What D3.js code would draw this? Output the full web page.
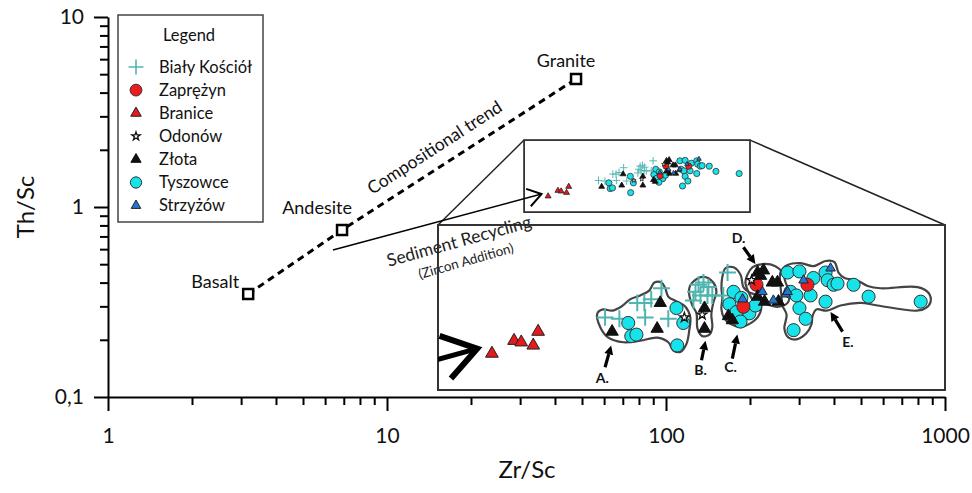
<!DOCTYPE html>
<html>
<head>
<meta charset="utf-8">
<title>Th/Sc vs Zr/Sc</title>
<script src="https://d3js.org/d3.v7.min.js"></script>
<style>
  body { margin: 0; background: #fff; }
  svg { font-family: Lato, "Open Sans", sans-serif; }
</style>
</head>
<body>
<svg id="chart" width="972" height="493"></svg>
<script>
// upper crust end members
const rockNames = ["Basalt", "Andesite", "Granite"];
const rockZrSc = [3.18, 6.9, 47.6];
const rockThSc = [0.348, 0.757, 4.72];

const xTicks = [1, 10, 100, 1000];
const xTickLabels = ["1", "10", "100", "1000"];
const yTicks = [0.1, 1, 10];
const yTickLabels = ["0,1", "1", "10"];

// window that is magnified in the inset
const insetZr = [31, 200];
const insetTh = [0.94, 2.25];

// samples, [Zr/Sc, Th/Sc]
const bialyKosciol = [
  [57.3, 1.38], [60.4, 1.37], [64.5, 1.49], [66.2, 1.49], [67.9, 1.52], [70.5, 1.61], [66.4, 1.38], [72.3, 1.37],
  [80.8, 1.64], [82.3, 1.66], [83.8, 1.62], [79.9, 1.58], [81.4, 1.55], [83.5, 1.55], [85.0, 1.55], [79.3, 1.51],
  [89.9, 1.75], [88.5, 1.55]
];
const zaprezyn = [[95.3, 1.46], [100.0, 1.64], [120.6, 1.64]];
const branice = [[37.8, 1.14], [41.0, 1.22], [42.1, 1.21], [44.0, 1.19], [44.8, 1.28]];
const odonow = [[76.7, 1.38], [81.9, 1.40], [98.2, 1.68]];
const zlota = [
  [58.8, 1.28], [70.2, 1.49], [69.4, 1.30], [82.6, 1.45], [82.6, 1.30], [90.2, 1.39], [91.5, 1.36],
  [100.4, 1.75], [102.6, 1.77], [101.5, 1.72], [106.0, 1.66], [108.0, 1.66], [100.4, 1.54], [103.0, 1.50], [108.4, 1.50]
];
const tyszowce = [
  [62.4, 1.34], [63.1, 1.25], [64.3, 1.26], [74.5, 1.45], [76.4, 1.34], [74.7, 1.19],
  [91.9, 1.58], [90.5, 1.48], [94.6, 1.53], [92.9, 1.42], [97.4, 1.41], [99.6, 1.47], [94.3, 1.35],
  [113.3, 1.58], [112.1, 1.75], [117.1, 1.76], [123.3, 1.70], [128.9, 1.75], [129.9, 1.68], [132.8, 1.64],
  [134.7, 1.65], [142.9, 1.64], [151.0, 1.54], [182.9, 1.50], [115.8, 1.55], [122.0, 1.55], [128.9, 1.50],
  [117.1, 1.45], [119.8, 1.37], [114.6, 1.29]
];
const strzyzow = [[95.0, 1.52], [102.2, 1.58], [106.4, 1.51], [111.3, 1.56], [118.9, 1.68], [131.3, 1.79], [112.1, 1.58]];

// group outlines in the inset
const hullA = [[55.7, 1.41], [56.3, 1.31], [58.0, 1.24], [61.3, 1.21], [65.2, 1.22], [69.4, 1.24], [72.3, 1.21], [73.6, 1.16],
  [75.6, 1.15], [77.3, 1.20], [78.1, 1.29], [78.4, 1.38], [77.0, 1.46], [74.7, 1.50], [72.3, 1.54], [71.5, 1.61],
  [70.5, 1.66], [68.7, 1.66], [67.4, 1.59], [65.2, 1.55], [62.9, 1.52], [60.8, 1.46], [58.8, 1.43], [56.9, 1.44]];
const hullB = [[79.0, 1.66], [82.3, 1.71], [85.3, 1.66], [86.3, 1.58], [85.3, 1.49], [84.7, 1.40], [85.0, 1.31], [84.1, 1.26],
  [81.9, 1.25], [80.5, 1.30], [80.2, 1.41], [79.0, 1.47], [78.1, 1.55], [78.1, 1.61]];
const hullC = [[89.2, 1.79], [91.9, 1.80], [94.3, 1.73], [95.3, 1.62], [97.1, 1.58], [100.7, 1.54], [101.8, 1.46], [100.4, 1.38],
  [97.1, 1.33], [94.3, 1.31], [91.2, 1.33], [88.9, 1.37], [87.9, 1.44], [88.2, 1.53], [87.9, 1.61], [88.2, 1.71]];
const hullD = [[96.7, 1.73], [98.6, 1.80], [102.2, 1.83], [107.2, 1.81], [110.0, 1.75], [111.3, 1.66], [112.9, 1.57], [112.1, 1.49],
  [108.4, 1.46], [105.3, 1.47], [102.2, 1.49], [98.9, 1.51], [97.1, 1.58], [96.0, 1.66]];
const hullE = [[109.2, 1.75], [112.1, 1.82], [117.6, 1.84], [123.3, 1.81], [128.9, 1.86], [133.2, 1.85], [135.2, 1.75], [138.2, 1.70],
  [144.5, 1.68], [150.5, 1.63], [157.8, 1.61], [180.9, 1.62], [188.3, 1.57], [189.7, 1.50], [186.3, 1.45], [180.2, 1.43],
  [156.1, 1.47], [146.6, 1.49], [136.2, 1.47], [129.4, 1.43], [124.7, 1.44], [122.9, 1.39], [122.4, 1.33], [120.2, 1.27],
  [116.3, 1.23], [112.5, 1.24], [110.8, 1.30], [111.7, 1.40], [110.0, 1.47], [109.6, 1.55], [109.2, 1.64]];

const groupNames = ["A.", "B.", "C.", "D.", "E."];
const groupLabelAt = [[56.7, 1.00], [81.4, 1.045], [90.9, 1.06], [93.6, 2.10], [140.0, 1.21]];
const groupArrowFrom = [[57.3, 1.06], [81.7, 1.10], [91.5, 1.11], [95.3, 2.00], [137.2, 1.28]];
const groupArrowTo = [[58.6, 1.19], [82.9, 1.22], [93.2, 1.26], [99.6, 1.83], [131.3, 1.42]];

// sediment recycling arrow
const recyclingFrom = [6.4, 0.594];
const recyclingTo = [35.8, 1.17];

const seriesNames = ["Biały Kościół", "Zaprężyn", "Branice", "Odonów", "Złota", "Tyszowce", "Strzyżów"];
const seriesData = [bialyKosciol, zaprezyn, branice, odonow, zlota, tyszowce, strzyzow];

const seriesStyle = [
  { type: d3.symbolPlus, size: 95, fill: "none", stroke: "#4fb5b0", sw: 2 },
  { type: d3.symbolCircle, size: 135, fill: "#ee1c1c", stroke: "#333", sw: 1 },
  { type: d3.symbolTriangle, size: 70, fill: "#e41a1c", stroke: "#222", sw: 1 },
  { type: d3.symbolStar, size: 28, fill: "#fff", stroke: "#111", sw: 1.3 },
  { type: d3.symbolTriangle, size: 66, fill: "#111", stroke: "#111", sw: 1 },
  { type: d3.symbolCircle, size: 135, fill: "#17e3ea", stroke: "#333", sw: 1 },
  { type: d3.symbolTriangle, size: 40, fill: "#2277d6", stroke: "#222", sw: 1 }
];
const drawOrder = [0, 5, 1, 4, 3, 6, 2];

const svg = d3.select("#chart");

// main axes
const x = d3.scaleLog().domain([1, 1000]).range([108, 945]);
const y = d3.scaleLog().domain([0.1, 10]).range([397, 17]);

// magnified copy of the inset window
const bx = d3.scaleLog().domain(insetZr).range([438, 945]);
const by = d3.scaleLog().domain(insetTh).range([390, 225]);

const minorX = [1, 10, 100].flatMap(e => d3.range(2, 10).map(m => m * e));
const minorY = [0.1, 1].flatMap(e => d3.range(2, 10).map(m => m * e));

function styleAxis(g) {
  g.attr("font-family", null).attr("font-size", 21);
  g.selectAll("line, path").attr("stroke", "#000").attr("stroke-width", 2);
  g.selectAll("text").attr("fill", "#111");
}

svg.append("g")
  .attr("transform", `translate(0,${y(0.1)})`)
  .call(d3.axisBottom(x).tickValues(minorX).tickSize(8).tickSizeOuter(0).tickFormat(""))
  .call(styleAxis)
  .select(".domain").remove();
svg.append("g")
  .attr("transform", `translate(0,${y(0.1)})`)
  .call(d3.axisBottom(x).tickValues(xTicks).tickSize(14).tickSizeOuter(0).tickPadding(17)
    .tickFormat((d, i) => xTickLabels[i]))
  .call(styleAxis);

svg.append("g")
  .attr("transform", `translate(${x(1)},0)`)
  .call(d3.axisLeft(y).tickValues(minorY).tickSize(8).tickSizeOuter(0).tickFormat(""))
  .call(styleAxis)
  .select(".domain").remove();
svg.append("g")
  .attr("transform", `translate(${x(1)},0)`)
  .call(d3.axisLeft(y).tickValues(yTicks).tickSize(14).tickSizeOuter(0).tickPadding(10)
    .tickFormat((d, i) => yTickLabels[i]))
  .call(styleAxis);

svg.append("text")
  .attr("transform", `translate(34,${y(1)}) rotate(-90)`)
  .attr("text-anchor", "middle")
  .attr("font-size", 24)
  .attr("fill", "#111")
  .text("Th/Sc");
svg.append("text")
  .attr("x", 527).attr("y", 478)
  .attr("text-anchor", "middle")
  .attr("font-size", 24)
  .attr("fill", "#111")
  .text("Zr/Sc");

// compositional trend
const rocks = rockNames.map((n, i) => ({ name: n, zr: rockZrSc[i], th: rockThSc[i] }));
svg.append("path")
  .datum(rocks)
  .attr("d", d3.line().x(d => x(d.zr)).y(d => y(d.th)))
  .attr("fill", "none")
  .attr("stroke", "#000")
  .attr("stroke-width", 3)
  .attr("stroke-dasharray", "7,5");

svg.selectAll(".rock")
  .data(rocks)
  .join("path")
  .attr("transform", d => `translate(${x(d.zr)},${y(d.th)})`)
  .attr("d", d3.symbol(d3.symbolSquare, 100))
  .attr("fill", "#fff")
  .attr("stroke", "#000")
  .attr("stroke-width", 2.5);

const rockLabelPos = [
  { dx: -9, dy: -6, anchor: "end" },
  { dx: -25, dy: -16, anchor: "middle" },
  { dx: -10, dy: -12, anchor: "middle" }
];
svg.selectAll(".rocklabel")
  .data(rocks)
  .join("text")
  .attr("x", (d, i) => x(d.zr) + rockLabelPos[i].dx)
  .attr("y", (d, i) => y(d.th) + rockLabelPos[i].dy)
  .attr("text-anchor", (d, i) => rockLabelPos[i].anchor)
  .attr("font-size", 18)
  .attr("fill", "#111")
  .text(d => d.name);

// rotated label along the trend
{
  const a = rocks[1], b = rocks[2];
  const x0 = x(a.zr), y0 = y(a.th), x1 = x(b.zr), y1 = y(b.th);
  const ang = Math.atan2(y1 - y0, x1 - x0) * 180 / Math.PI;
  const t = 0.44;
  svg.append("text")
    .attr("transform", `translate(${x0 + t * (x1 - x0)},${y0 + t * (y1 - y0)}) rotate(${ang})`)
    .attr("y", -13)
    .attr("text-anchor", "middle")
    .attr("font-size", 17.5)
    .attr("fill", "#111")
    .text("Compositional trend");
}

// inset frames and connectors
const sx0 = x(insetZr[0]), sx1 = x(insetZr[1]), sy0 = y(insetTh[1]), sy1 = y(insetTh[0]);
const bx0 = bx.range()[0], bx1 = bx.range()[1], byTop = by.range()[1], byBot = by.range()[0];

svg.append("line").attr("x1", bx0).attr("y1", byTop).attr("x2", sx0).attr("y2", sy0)
  .attr("stroke", "#222").attr("stroke-width", 1.5);
svg.append("line").attr("x1", bx1).attr("y1", byTop).attr("x2", sx1).attr("y2", sy0)
  .attr("stroke", "#222").attr("stroke-width", 1.5);

svg.append("rect")
  .attr("x", sx0).attr("y", sy0).attr("width", sx1 - sx0).attr("height", sy1 - sy0)
  .attr("fill", "#fff").attr("stroke", "#333").attr("stroke-width", 1.8);
svg.append("rect")
  .attr("x", bx0).attr("y", byTop).attr("width", bx1 - bx0).attr("height", byBot - byTop)
  .attr("fill", "#fff").attr("stroke", "#333").attr("stroke-width", 2);

svg.append("defs").append("clipPath").attr("id", "bigClip")
  .append("rect").attr("x", bx0).attr("y", byTop).attr("width", bx1 - bx0).attr("height", byBot - byTop);

function plotSeries(g, sx, sy, k) {
  drawOrder.forEach(i => {
    const st = seriesStyle[i];
    g.append("g").selectAll("path")
      .data(seriesData[i])
      .join("path")
      .attr("transform", d => `translate(${sx(d[0])},${sy(d[1])})`)
      .attr("d", d3.symbol(st.type, st.size * k * k))
      .attr("fill", st.fill)
      .attr("stroke", st.stroke)
      .attr("stroke-width", Math.max(st.sw * k, 0.8));
  });
}

function chevron(g, sx, sy, k, sw) {
  const tx = sx(recyclingTo[0]), ty = sy(recyclingTo[1]);
  const ang = Math.atan2(y(recyclingTo[1]) - y(recyclingFrom[1]), x(recyclingTo[0]) - x(recyclingFrom[0])) * 180 / Math.PI;
  g.append("path")
    .attr("transform", `translate(${tx},${ty}) rotate(${ang})`)
    .attr("d", `M${-30 * k},${-20 * k}L0,0L${-30 * k},${20 * k}`)
    .attr("fill", "none")
    .attr("stroke", "#000")
    .attr("stroke-width", sw)
    .attr("stroke-linejoin", "miter");
}

// small inset (true position)
plotSeries(svg.append("g"), x, y, 0.47);

// recycling arrow
svg.append("line")
  .attr("x1", x(recyclingFrom[0])).attr("y1", y(recyclingFrom[1]))
  .attr("x2", x(recyclingTo[0])).attr("y2", y(recyclingTo[1]))
  .attr("stroke", "#000").attr("stroke-width", 1.5);
chevron(svg.append("g"), x, y, 0.45, 2);

svg.append("text")
  .attr("transform", "translate(459,241) rotate(-15.5)")
  .attr("text-anchor", "middle").attr("dy", "0.35em")
  .attr("font-size", 17.5).attr("fill", "#222")
  .text("Sediment Recycling");
svg.append("text")
  .attr("transform", "translate(466,261) rotate(-16)")
  .attr("text-anchor", "middle").attr("dy", "0.35em")
  .attr("font-size", 13.5).attr("fill", "#222")
  .text("(Zircon Addition)");

// magnified inset
const big = svg.append("g").attr("clip-path", "url(#bigClip)");
big.append("line")
  .attr("x1", bx(recyclingFrom[0])).attr("y1", by(recyclingFrom[1]))
  .attr("x2", bx(recyclingTo[0])).attr("y2", by(recyclingTo[1]))
  .attr("stroke", "#000").attr("stroke-width", 5);
chevron(big, bx, by, 1.1, 6);

const hullLine = d3.line().x(d => bx(d[0])).y(d => by(d[1])).curve(d3.curveCatmullRomClosed.alpha(0.5));
big.selectAll(".hull")
  .data([hullA, hullB, hullC, hullD, hullE])
  .join("path")
  .attr("d", hullLine)
  .attr("fill", "none")
  .attr("stroke", "#444")
  .attr("stroke-width", 2.2);

plotSeries(big, bx, by, 1);

// group arrows and labels
groupNames.forEach((name, i) => {
  const x0 = bx(groupArrowFrom[i][0]), y0 = by(groupArrowFrom[i][1]);
  const x1 = bx(groupArrowTo[i][0]), y1 = by(groupArrowTo[i][1]);
  const a = Math.atan2(y1 - y0, x1 - x0);
  const hl = 9, hw = 4.5;
  const xb = x1 - hl * Math.cos(a), yb = y1 - hl * Math.sin(a);
  big.append("line")
    .attr("x1", x0).attr("y1", y0).attr("x2", xb).attr("y2", yb)
    .attr("stroke", "#000").attr("stroke-width", 3.2);
  big.append("path")
    .attr("d", `M${x1},${y1}L${xb - hw * Math.sin(a)},${yb + hw * Math.cos(a)}L${xb + hw * Math.sin(a)},${yb - hw * Math.cos(a)}Z`)
    .attr("fill", "#000");
  big.append("text")
    .attr("x", bx(groupLabelAt[i][0])).attr("y", by(groupLabelAt[i][1]))
    .attr("dy", "0.35em")
    .attr("text-anchor", "middle")
    .attr("font-size", 14)
    .attr("font-weight", "bold")
    .attr("fill", "#111")
    .text(name);
});

// legend
const legend = svg.append("g");
legend.append("rect")
  .attr("x", 118).attr("y", 15).attr("width", 145).attr("height", 207)
  .attr("fill", "#fff").attr("stroke", "#444").attr("stroke-width", 1.5);
legend.append("text")
  .attr("x", 189).attr("y", 41)
  .attr("text-anchor", "middle")
  .attr("font-size", 16.5)
  .attr("fill", "#111")
  .text("Legend");
const legendSize = [75, 110, 48, 22, 45, 100, 40];
seriesNames.forEach((n, i) => {
  const st = seriesStyle[i];
  const cy = 67 + i * 23.1;
  legend.append("path")
    .attr("transform", `translate(136,${cy})`)
    .attr("d", d3.symbol(st.type, legendSize[i]))
    .attr("fill", st.fill)
    .attr("stroke", st.stroke)
    .attr("stroke-width", i === 0 ? 1.6 : st.sw);
  legend.append("text")
    .attr("x", 159).attr("y", cy)
    .attr("dy", "0.35em")
    .attr("font-size", 16.5)
    .attr("fill", "#111")
    .text(n);
});
</script>
</body>
</html>
